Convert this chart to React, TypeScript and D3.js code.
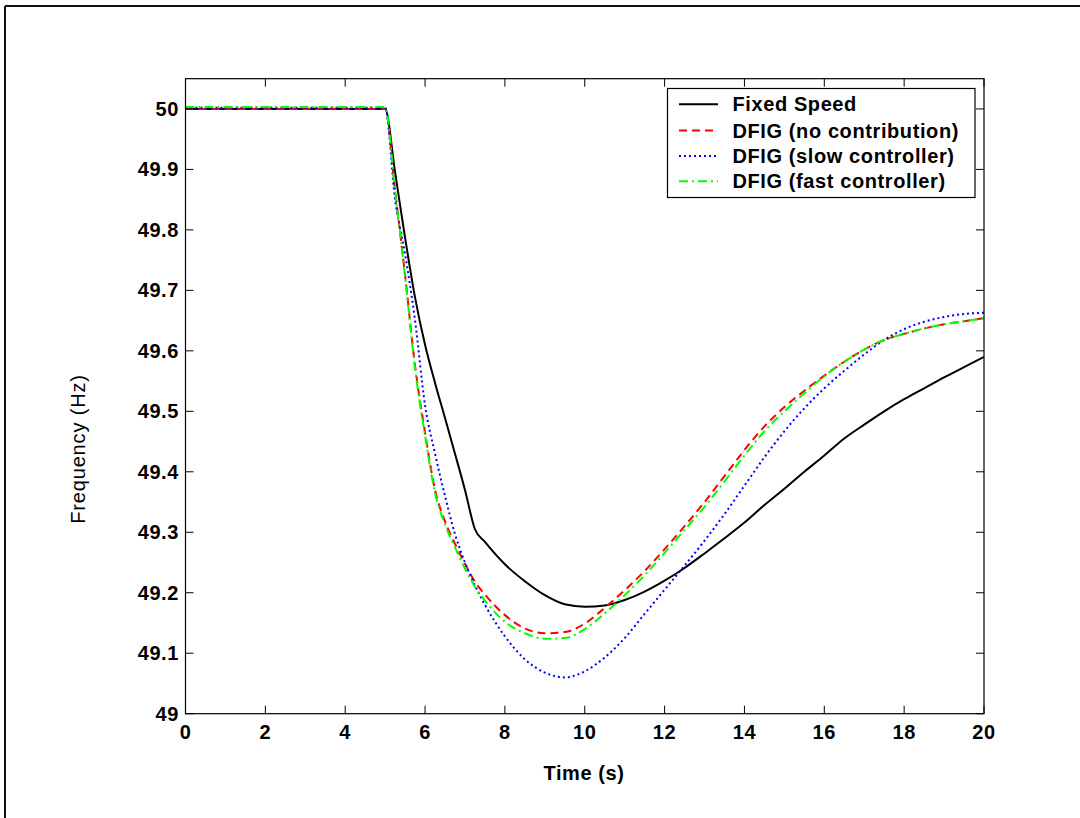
import React from "react";
import * as d3 from "d3";

const times = [0, 5, 5.25, 5.5, 5.75, 6, 6.25, 6.5, 6.75, 7, 7.25, 7.5, 8, 8.5, 9, 9.5, 10, 10.5, 11, 11.5, 12, 12.5, 13, 13.5, 14, 14.5, 15, 15.5, 16, 16.5, 17, 17.5, 18, 18.5, 19, 19.5, 20];

const fixedSpeed = [50, 50, 49.895, 49.787, 49.688, 49.61, 49.547, 49.489, 49.43, 49.37, 49.305, 49.284, 49.247, 49.219, 49.196, 49.181, 49.177, 49.179, 49.188, 49.202, 49.22, 49.241, 49.265, 49.29, 49.316, 49.345, 49.372, 49.4, 49.427, 49.455, 49.478, 49.5, 49.52, 49.538, 49.556, 49.573, 49.59];

const dfigNoContribution = [50, 50, 49.865, 49.725, 49.575, 49.465, 49.37, 49.318, 49.281, 49.248, 49.218, 49.197, 49.163, 49.141, 49.133, 49.135, 49.149, 49.175, 49.204, 49.236, 49.272, 49.31, 49.35, 49.393, 49.436, 49.475, 49.507, 49.534, 49.559, 49.582, 49.602, 49.618, 49.628, 49.637, 49.644, 49.649, 49.654];

const dfigSlow = [50.002, 50.002, 49.85, 49.76, 49.65, 49.51, 49.43, 49.36, 49.297, 49.25, 49.212, 49.18, 49.128, 49.09, 49.068, 49.06, 49.07, 49.093, 49.125, 49.165, 49.205, 49.245, 49.286, 49.33, 49.377, 49.424, 49.467, 49.505, 49.538, 49.567, 49.594, 49.618, 49.636, 49.648, 49.656, 49.661, 49.663];

const dfigFast = [50.003, 50.003, 49.865, 49.723, 49.57, 49.46, 49.365, 49.313, 49.275, 49.24, 49.21, 49.187, 49.152, 49.133, 49.124, 49.125, 49.14, 49.166, 49.196, 49.229, 49.266, 49.304, 49.342, 49.384, 49.427, 49.467, 49.5, 49.53, 49.558, 49.582, 49.602, 49.618, 49.628, 49.637, 49.644, 49.649, 49.654];

const seriesNames = ["Fixed Speed", "DFIG (no contribution)", "DFIG (slow controller)", "DFIG (fast controller)"];
const seriesColors = ["#000000", "#ff0000", "#0000ff", "#00ff00"];
const seriesDash = ["", "8,5", "2,3", "9,4,2,4"];

const xTicks = [0, 2, 4, 6, 8, 10, 12, 14, 16, 18, 20];
const yTicks = [49, 49.1, 49.2, 49.3, 49.4, 49.5, 49.6, 49.7, 49.8, 49.9, 50];

const W = 1080;
const H = 818;
const L = 185.5, R = 984, T = 78.7, B = 713.7;
const FONT = "'Liberation Sans', Arial, Helvetica, sans-serif";
const FS = 20;
const LS = 0.6;

export default function App() {
  const x = d3.scaleLinear().domain([0, 20]).range([L, R]);
  const y = d3.scaleLinear().domain([49, 50.05]).range([B, T]);
  const allSeries = [fixedSpeed, dfigNoContribution, dfigSlow, dfigFast];
  const line = d3
    .line<number>()
    .x((_, i) => x(times[i]))
    .y((d) => y(d))
    .curve(d3.curveMonotoneX);
  const tickLen = 8;
  const legX = 667.5, legY = 88.5, legW = 307.5, legH = 109;
  const rowY = [104.3, 130.5, 156, 181.3];

  return (
    <svg width={W} height={H} style={{ position: "absolute", left: 0, top: 0, background: "#fff" }}>
      <rect x={0} y={0} width={W} height={H} fill="#fff" />
      {/* outer frame */}
      <line x1={5} y1={6} x2={W} y2={6} stroke="#111" strokeWidth={2} />
      <line x1={5} y1={6} x2={5} y2={H} stroke="#111" strokeWidth={2} />

      <defs>
        <clipPath id="plotclip">
          <rect x={L} y={T} width={R - L} height={B - T} />
        </clipPath>
      </defs>

      {/* series */}
      <g clipPath="url(#plotclip)">
        {allSeries.map((s, i) => (
          <path
            key={i}
            d={line(s) || ""}
            fill="none"
            stroke={seriesColors[i]}
            strokeWidth={2}
            strokeDasharray={seriesDash[i] || undefined}
          />
        ))}
      </g>

      {/* axes box */}
      <rect x={L} y={T} width={R - L} height={B - T} fill="none" stroke="#000" strokeWidth={1.2} />

      {/* x ticks */}
      {xTicks.map((t) => (
        <g key={"x" + t}>
          <line x1={x(t)} x2={x(t)} y1={B} y2={B - tickLen} stroke="#000" strokeWidth={1} />
          <line x1={x(t)} x2={x(t)} y1={T} y2={T + tickLen} stroke="#000" strokeWidth={1} />
          <text x={x(t)} y={738.5} textAnchor="middle" fontFamily={FONT} fontWeight="bold" fontSize={FS} letterSpacing={LS} fill="#000">
            {t}
          </text>
        </g>
      ))}

      {/* y ticks */}
      {yTicks.map((v) => (
        <g key={"y" + v}>
          <line x1={L} x2={L + tickLen} y1={y(v)} y2={y(v)} stroke="#000" strokeWidth={1} />
          <line x1={R} x2={R - tickLen} y1={y(v)} y2={y(v)} stroke="#000" strokeWidth={1} />
          <text x={179} y={y(v) + 7} textAnchor="end" fontFamily={FONT} fontWeight="bold" fontSize={FS} letterSpacing={LS} fill="#000">
            {d3.format("")(+v.toFixed(1))}
          </text>
        </g>
      ))}

      {/* axis labels */}
      <text x={584} y={779.5} textAnchor="middle" fontFamily={FONT} fontWeight="bold" fontSize={FS} letterSpacing={LS} fill="#000">
        Time (s)
      </text>
      <text
        transform={`translate(85,449) rotate(-90)`}
        textAnchor="middle"
        fontFamily={FONT}
        fontSize={FS}
        letterSpacing={0.85}
        fill="#000"
      >
        Frequency (Hz)
      </text>

      {/* legend */}
      <rect x={legX} y={legY} width={legW} height={legH} fill="#fff" stroke="#000" strokeWidth={1.2} />
      {seriesNames.map((n, i) => (
        <g key={n}>
          <line
            x1={679}
            x2={718}
            y1={rowY[i]}
            y2={rowY[i]}
            stroke={seriesColors[i]}
            strokeWidth={2}
            strokeDasharray={seriesDash[i] || undefined}
          />
          <text x={732.5} y={rowY[i] + 7} fontFamily={FONT} fontWeight="bold" fontSize={FS} letterSpacing={LS} fill="#000">
            {n}
          </text>
        </g>
      ))}
    </svg>
  );
}
